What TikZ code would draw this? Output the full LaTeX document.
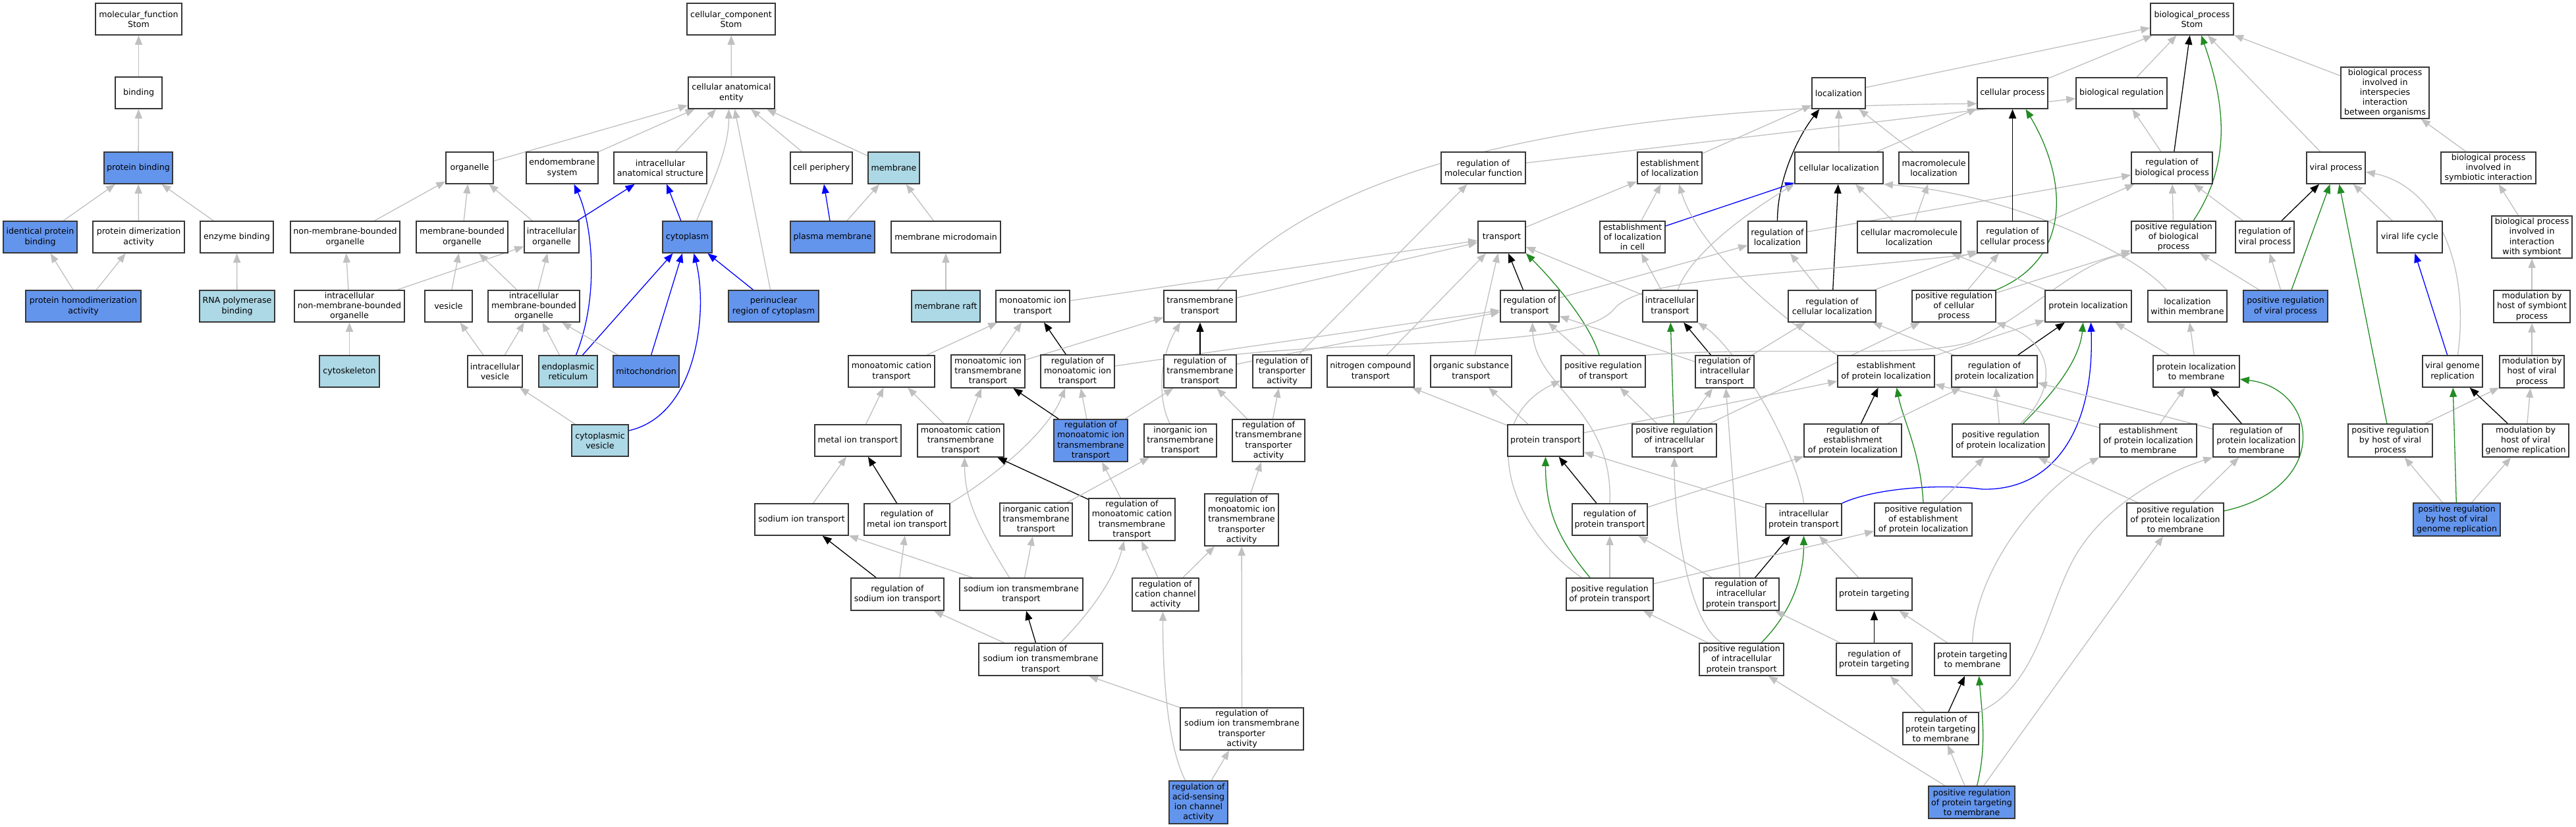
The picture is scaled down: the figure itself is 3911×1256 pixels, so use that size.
\documentclass[tikz,border=0pt]{standalone}
\usepackage{fontspec}
\setmainfont{DejaVu Sans}
\usetikzlibrary{arrows.meta}
\definecolor{lb}{RGB}{173,216,230}
\definecolor{cb}{RGB}{100,149,237}
\definecolor{eg}{RGB}{192,192,192}
\definecolor{fg}{RGB}{34,139,34}
\definecolor{nb}{RGB}{55,55,55}
\newcommand{\gofont}{\fontsize{6.3pt}{7.6pt}\selectfont}
\pgfdeclarelayer{bgl}
\pgfdeclarelayer{edges}
\pgfsetlayers{bgl,edges,main}
\newcommand{\GOn}[7]{\node[gbox,fill=#6,minimum width={(#3-#2)*0.5pt},minimum height={(#5-#4)*0.5pt}] (#1) at ({(#2+#3)/2},{(#4+#5)/2}) {#7};}
\tikzset{
  gbox/.style={draw=nb, line width=0.8pt, rectangle, align=center, inner xsep=0.3pt, inner ysep=0.5pt, font=\gofont},
  tip/.style={-{Triangle[length=7pt,width=5.5pt]}},
  ga/.style={draw=eg, line width=0.65pt, tip},
  ba/.style={draw=black, line width=0.65pt, tip},
  bl/.style={draw=blue, line width=0.65pt, tip},
  gr/.style={draw=fg, line width=0.65pt, tip}
}
\begin{document}
\begin{tikzpicture}[x=0.5pt,y=-0.5pt]
\useasboundingbox (0,0) rectangle (3911,1256);
\begin{pgfonlayer}{bgl}
\fill[white] (0,0) rectangle (3911,1256);
\end{pgfonlayer}
% ---------- molecular function ----------
\GOn{mf}{145}{276}{5}{53}{white}{molecular\_function\\Stom}
\GOn{binding}{175}{246}{117}{165}{white}{binding}
\GOn{protbind}{158}{262}{231}{279}{cb}{protein binding}
\GOn{identbind}{5}{117}{336}{384}{cb}{identical protein\\binding}
\GOn{dimer}{141}{280}{336}{384}{white}{protein dimerization\\activity}
\GOn{enzbind}{304}{415}{336}{384}{white}{enzyme binding}
\GOn{homodimer}{39}{214}{441}{489}{cb}{protein homodimerization\\activity}
\GOn{rnapol}{303}{417}{441}{489}{lb}{RNA polymerase\\binding}
% ---------- cellular component ----------
\GOn{cc}{1043}{1177}{5}{53}{white}{cellular\_component\\Stom}
\GOn{cae}{1045}{1176}{117}{165}{white}{cellular anatomical\\entity}
\GOn{organelle}{677}{749}{231}{279}{white}{organelle}
\GOn{endomem}{799}{908}{231}{279}{white}{endomembrane\\system}
\GOn{ias}{932}{1073}{231}{279}{white}{intracellular\\anatomical structure}
\GOn{cellper}{1200}{1294}{231}{279}{white}{cell periphery}
\GOn{membrane}{1318}{1396}{231}{279}{lb}{membrane}
\GOn{nmbo}{441}{607}{336}{384}{white}{non-membrane-bounded\\organelle}
\GOn{mbo}{632}{771}{336}{384}{white}{membrane-bounded\\organelle}
\GOn{io}{796}{879}{336}{384}{white}{intracellular\\organelle}
\GOn{cyto}{1006}{1081}{336}{384}{cb}{cytoplasm}
\GOn{pm}{1200}{1328}{336}{384}{cb}{plasma membrane}
\GOn{mmd}{1353}{1519}{336}{384}{white}{membrane microdomain}
\GOn{inmbo}{447}{614}{441}{489}{white}{intracellular\\non-membrane-bounded\\organelle}
\GOn{vesicle}{645}{717}{441}{489}{white}{vesicle}
\GOn{imbo}{741}{880}{441}{489}{white}{intracellular\\membrane-bounded\\organelle}
\GOn{perinuc}{1106}{1243}{441}{489}{cb}{perinuclear\\region of cytoplasm}
\GOn{raft}{1384}{1488}{441}{489}{lb}{membrane raft}
\GOn{cytoskel}{485}{576}{540}{588}{lb}{cytoskeleton}
\GOn{ivesicle}{710}{793}{540}{588}{white}{intracellular\\vesicle}
\GOn{er}{818}{907}{540}{588}{lb}{endoplasmic\\reticulum}
\GOn{mito}{931}{1031}{540}{588}{cb}{mitochondrion}
\GOn{cvesicle}{868}{954}{645}{693}{lb}{cytoplasmic\\vesicle}
% ---------- ion transport ----------
\GOn{mit}{1512}{1624}{441}{489}{white}{monoatomic ion\\transport}
\GOn{tmt}{1767}{1877}{441}{489}{white}{transmembrane\\transport}
\GOn{mct}{1288}{1419}{540}{588}{white}{monoatomic cation\\transport}
\GOn{mitt}{1444}{1556}{539}{589}{white}{monoatomic ion\\transmembrane\\transport}
\GOn{rmit}{1580}{1692}{539}{589}{white}{regulation of\\monoatomic ion\\transport}
\GOn{rtmt}{1767}{1877}{539}{589}{white}{regulation of\\transmembrane\\transport}
\GOn{rta}{1902}{1991}{539}{589}{white}{regulation of\\transporter\\activity}
\GOn{metal}{1237}{1368}{645}{693}{white}{metal ion transport}
\GOn{mctt}{1393}{1524}{644}{694}{white}{monoatomic cation\\transmembrane\\transport}
\GOn{rmitt}{1600}{1712}{637}{701}{cb}{regulation of\\monoatomic ion\\transmembrane\\transport}
\GOn{iitt}{1737}{1847}{644}{694}{white}{inorganic ion\\transmembrane\\transport}
\GOn{rtta}{1871}{1981}{637}{701}{white}{regulation of\\transmembrane\\transporter\\activity}
\GOn{sodium}{1146}{1288}{765}{813}{white}{sodium ion transport}
\GOn{rmetal}{1312}{1442}{765}{813}{white}{regulation of\\metal ion transport}
\GOn{ictt}{1518}{1628}{764}{814}{white}{inorganic cation\\transmembrane\\transport}
\GOn{rmctt}{1653}{1784}{757}{821}{white}{regulation of\\monoatomic cation\\transmembrane\\transport}
\GOn{rmitta}{1829}{1941}{750}{829}{white}{regulation of\\monoatomic ion\\transmembrane\\transporter\\activity}
\GOn{rsodium}{1292}{1433}{878}{927}{white}{regulation of\\sodium ion transport}
\GOn{sitt}{1457}{1644}{878}{927}{white}{sodium ion transmembrane\\transport}
\GOn{rcca}{1719}{1820}{878}{928}{white}{regulation of\\cation channel\\activity}
\GOn{rsitt}{1486}{1674}{977}{1026}{white}{regulation of\\sodium ion transmembrane\\transport}
\GOn{rsitta}{1792}{1979}{1075}{1139}{white}{regulation of\\sodium ion transmembrane\\transporter\\activity}
\GOn{rasic}{1775}{1864}{1186}{1251}{cb}{regulation of\\acid-sensing\\ion channel\\activity}
% ---------- transport ----------
\GOn{rmf}{2188}{2316}{231}{279}{white}{regulation of\\molecular function}
\GOn{eloc}{2486}{2584}{231}{279}{white}{establishment\\of localization}
\GOn{transport}{2244}{2316}{336}{384}{white}{transport}
\GOn{elic}{2429}{2528}{336}{384}{white}{establishment\\of localization\\in cell}
\GOn{rtrans}{2278}{2367}{441}{489}{white}{regulation of\\transport}
\GOn{itrans}{2494}{2577}{441}{489}{white}{intracellular\\transport}
\GOn{nct}{2015}{2147}{540}{588}{white}{nitrogen compound\\transport}
\GOn{ost}{2172}{2295}{540}{588}{white}{organic substance\\transport}
\GOn{prt}{2370}{2498}{540}{588}{white}{positive regulation\\of transport}
\GOn{rit}{2574}{2663}{540}{589}{white}{regulation of\\intracellular\\transport}
\GOn{pt}{2289}{2404}{645}{693}{white}{protein transport}
\GOn{prit}{2478}{2606}{644}{694}{white}{positive regulation\\of intracellular\\transport}
\GOn{rpt}{2387}{2501}{765}{813}{white}{regulation of\\protein transport}
\GOn{prpt}{2378}{2510}{878}{927}{white}{positive regulation\\of protein transport}
% ---------- localization ----------
\GOn{loc}{2751}{2832}{118}{165}{white}{localization}
\GOn{cp}{3002}{3109}{118}{165}{white}{cellular process}
\GOn{breg}{3152}{3290}{118}{165}{white}{biological regulation}
\GOn{cloc}{2725}{2859}{231}{279}{white}{cellular localization}
\GOn{mloc}{2883}{2989}{231}{279}{white}{macromolecule\\localization}
\GOn{rbp}{3236}{3359}{231}{279}{white}{regulation of\\biological process}
\GOn{rloc}{2654}{2743}{336}{384}{white}{regulation of\\localization}
\GOn{cmloc}{2820}{2977}{336}{384}{white}{cellular macromolecule\\localization}
\GOn{rcp}{3002}{3109}{336}{384}{white}{regulation of\\cellular process}
\GOn{prbp}{3236}{3364}{336}{384}{white}{positive regulation\\of biological\\process}
\GOn{rcloc}{2715}{2848}{441}{489}{white}{regulation of\\cellular localization}
\GOn{prcp}{2903}{3030}{441}{489}{white}{positive regulation\\of cellular\\process}
\GOn{ploc}{3105}{3236}{441}{489}{white}{protein localization}
\GOn{epl}{2790}{2937}{540}{588}{white}{establishment\\of protein localization}
\GOn{rpl}{2963}{3093}{540}{588}{white}{regulation of\\protein localization}
\GOn{repl}{2739}{2887}{644}{694}{white}{regulation of\\establishment\\of protein localization}
\GOn{prpl}{2964}{3111}{644}{694}{white}{positive regulation\\of protein localization}
\GOn{eplm}{3188}{3335}{644}{694}{white}{establishment\\of protein localization\\to membrane}
\GOn{ipt}{2681}{2796}{765}{813}{white}{intracellular\\protein transport}
\GOn{prepl}{2846}{2994}{764}{814}{white}{positive regulation\\of establishment\\of protein localization}
\GOn{prplm}{3229}{3376}{764}{814}{white}{positive regulation\\of protein localization\\to membrane}
\GOn{ript}{2586}{2701}{878}{927}{white}{regulation of\\intracellular\\protein transport}
\GOn{ptg}{2788}{2903}{878}{927}{white}{protein targeting}
\GOn{prip}{2580}{2708}{977}{1026}{white}{positive regulation\\of intracellular\\protein transport}
\GOn{rptg}{2788}{2903}{977}{1026}{white}{regulation of\\protein targeting}
\GOn{ptm}{2937}{3052}{977}{1026}{white}{protein targeting\\to membrane}
\GOn{rptm}{2889}{3004}{1082}{1131}{white}{regulation of\\protein targeting\\to membrane}
\GOn{prptm}{2928}{3059}{1194}{1243}{cb}{positive regulation\\of protein targeting\\to membrane}
% ---------- viral / top ----------
\GOn{bp}{3265}{3391}{5}{53}{white}{biological\_process\\Stom}
\GOn{bpii}{3554}{3688}{102}{180}{white}{biological process\\involved in\\interspecies\\interaction\\between organisms}
\GOn{vp}{3502}{3591}{231}{279}{white}{viral process}
\GOn{bpsi}{3706}{3850}{231}{279}{white}{biological process\\involved in\\symbiotic interaction}
\GOn{rvp}{3394}{3483}{336}{384}{white}{regulation of\\viral process}
\GOn{vlc}{3609}{3708}{336}{384}{white}{viral life cycle}
\GOn{bpis}{3783}{3905}{328}{392}{white}{biological process\\involved in\\interaction\\with symbiont}
\GOn{lwm}{3261}{3381}{441}{489}{white}{localization\\within membrane}
\GOn{prvp}{3406}{3534}{441}{489}{cb}{positive regulation\\of viral process}
\GOn{mhsp}{3786}{3902}{441}{490}{white}{modulation by\\host of symbiont\\process}
\GOn{plm}{3269}{3400}{540}{588}{white}{protein localization\\to membrane}
\GOn{vgr}{3678}{3769}{540}{588}{white}{viral genome\\replication}
\GOn{mhvp}{3795}{3893}{540}{589}{white}{modulation by\\host of viral\\process}
\GOn{rplm}{3360}{3491}{644}{694}{white}{regulation of\\protein localization\\to membrane}
\GOn{prhvp}{3565}{3693}{644}{694}{white}{positive regulation\\by host of viral\\process}
\GOn{mhvgr}{3769}{3900}{644}{694}{white}{modulation by\\host of viral\\genome replication}
\GOn{prhvgr}{3664}{3796}{764}{814}{cb}{positive regulation\\by host of viral\\genome replication}

\begin{pgfonlayer}{edges}
% MF
\draw[ga] (binding) -- (mf);
\draw[ga] (protbind) -- (binding);
\draw[ga] (identbind) -- (protbind);
\draw[ga] (dimer) -- (protbind);
\draw[ga] (enzbind) -- (protbind);
\draw[ga] (homodimer) -- (identbind);
\draw[ga] (homodimer) -- (dimer);
\draw[ga] (rnapol) -- (enzbind);
% CC
\draw[ga] (cae) -- (cc);
\draw[ga] (organelle) -- (cae);
\draw[ga] (endomem) -- (cae);
\draw[ga] (ias) -- (cae);
\draw[ga] ([xshift=7pt]cyto.north) .. controls +(25,-60) and +(0,60) .. ([xshift=-2pt]cae.south);
\draw[ga] (perinuc) -- (cae);
\draw[ga] (cellper) -- (cae);
\draw[ga] (membrane) -- (cae);
\draw[ga] (nmbo) -- (organelle);
\draw[ga] (mbo) -- (organelle);
\draw[ga] (io) -- (organelle);
\draw[bl] (io) -- (ias);
\draw[bl] (cyto) -- (ias);
\draw[bl] (pm) -- (cellper);
\draw[ga] (pm) -- (membrane);
\draw[ga] (mmd) -- (membrane);
\draw[ga] (raft) -- (mmd);
\draw[ga] (inmbo) -- (nmbo);
\draw[ga] (inmbo) -- (io);
\draw[ga] (vesicle) -- (mbo);
\draw[ga] (imbo) -- (mbo);
\draw[ga] (imbo) -- (io);
\draw[ga] (cytoskel) -- (inmbo);
\draw[ga] (ivesicle) -- (vesicle);
\draw[ga] (ivesicle) -- (imbo);
\draw[ga] (er) -- (imbo);
\draw[bl] ([xshift=6pt]er.north) .. controls +(36,-90) and +(28,60) .. ([xshift=9pt]endomem.south);
\draw[bl] (er) -- (cyto);
\draw[ga] (mito) -- (imbo);
\draw[bl] (mito) -- (cyto);
\draw[bl] (perinuc) -- (cyto);
\draw[ga] (cvesicle) -- (ivesicle);
\draw[bl] ([yshift=7.5pt]cvesicle.east) .. controls (1060,630) and (1075,470) .. ([xshift=5pt]cyto.south);
% BP top
\draw[ga] (loc) -- (bp);
\draw[ga] (cp) -- (bp);
\draw[ga] (breg) -- (bp);
\draw[ba] (rbp) -- (bp);
\draw[gr] ([xshift=15pt]prbp.north) .. controls +(60,-90) and +(35,100) .. ([xshift=7pt]bp.south);
\draw[ga] (vp) -- (bp);
\draw[ga] (bpii) -- (bp);
% row 1 parents
\draw[ga] (eloc) -- (loc);
\draw[ga] (cloc) -- (loc);
\draw[ga] (mloc) -- (loc);
\draw[ba] (rloc.north) .. controls +(0,-60) and +(-35,45) .. ([xshift=6pt]loc.south west);
\draw[ga] (cloc) -- (cp);
\draw[ga] (rmf) -- (breg);
\draw[ga] (rbp) -- (breg);
\draw[ga] ([xshift=13pt]tmt.north) .. controls (2050,200) and (2600,160) .. ([yshift=-8pt]cp.west);
\draw[ga] (rloc) -- (rbp);
\draw[ga] (rcp) -- (rbp);
\draw[ga] (prbp) -- (rbp);
\draw[ga] (rvp) -- (rbp);
\draw[ga] ([xshift=-16pt]lwm.north) .. controls +(-40,-50) and +(200,15) .. (cloc.south east);
\draw[ba] (rvp) -- (vp);
\draw[gr] (prvp) -- (vp);
\draw[gr] (prhvp) -- (vp);
\draw[ga] (vlc) -- (vp);
\draw[ga] ([xshift=4pt]vgr.north) .. controls +(20,-150) and +(100,20) .. ([yshift=-3pt]vp.east);
\draw[ga] (bpsi) -- (bpii);
\draw[ga] (bpis) -- (bpsi);
\draw[ga] (mhsp) -- (bpis);
\draw[ga] (mhvp) -- (mhsp);
% row 3
\draw[ga] (transport) -- (eloc);
\draw[ga] (elic) -- (eloc);
\draw[bl] (elic) -- (cloc);
\draw[ga] (epl.north west) .. controls (2700,480) and (2580,380) .. ([xshift=7pt]eloc.south);
\draw[ga] (itrans) -- (elic);
\draw[ga] ([xshift=6pt]itrans.north) .. controls +(20,-60) and +(-50,30) .. (cloc.south west);
\draw[ba] (rcloc) -- (cloc);
\draw[ga] (cmloc) -- (cloc);
\draw[ga] (cmloc) -- (mloc);
\draw[ga] (rcloc) -- (rloc);
\draw[ga] (rtrans) -- (rloc);
\draw[ga] (rtmt.north east) .. controls (2100,515) and (2400,530) .. (2450,470) .. controls (2490,420) and (2700,420) .. ([xshift=1pt]rcp.south west);
\draw[ga] (rcloc) -- (rcp);
\draw[ga] (prcp) -- (rcp);
\draw[gr] (prcp.north east) .. controls +(120,-50) and +(60,100) .. ([xshift=10pt]cp.south);
\draw[ba] (rcp) -- (cp);
\draw[ga] (prcp) -- (prbp);
\draw[ga] (prvp) -- (rvp);
\draw[ga] (prvp) -- (prbp);
\draw[ga] (ploc) -- (cmloc);
\draw[bl] (vgr) -- (vlc);
% row 4
\draw[ga] (mit) -- (transport);
\draw[ga] (tmt) -- (transport);
\draw[ba] (rtrans) -- (transport);
\draw[ga] (itrans) -- (transport);
\draw[gr] ([xshift=-3pt]prt.north) .. controls +(-15,-50) and +(40,40) .. (transport.south east);
\draw[ga] (nct) -- (transport);
\draw[ga] (ost) -- (transport);
\draw[ga] (rta) -- (rmf);
\draw[ga] (rit) -- (rtrans);
\draw[ga] (prt) -- (rtrans);
\draw[ga] (rpt.north) .. controls (2450,620) and (2330,590) .. ([xshift=2pt]rtrans.south);
\draw[ga] (rmit) -- (rtrans);
\draw[ga] (rtmt) -- (rtrans);
\draw[ga] (ript) -- (rit);
\draw[ga] (prit) -- (rit);
\draw[ga] (rit) -- (rcloc);
\draw[gr] (prit) -- (itrans);
\draw[ba] (rit) -- (itrans);
\draw[ga] (ipt.north) .. controls +(-10,-80) and +(60,40) .. (itrans.south east);
\draw[ga] (prit) -- (prt);
\draw[ga] ([xshift=12pt]prpt.north west) .. controls (2290,800) and (2240,640) .. ([yshift=-7pt]prt.west);
\draw[ga] (prt.north east) .. controls (2700,525) and (2900,545) .. (2990,520) .. controls (3080,480) and (3150,400) .. (prbp.south west);
\draw[bl] (ipt.north east) .. controls (2850,740) and (2950,735) .. (3010,743) .. controls (3120,745) and (3180,650) .. ([xshift=2pt]ploc.south);
\draw[ga] (epl) -- (ploc);
\draw[ba] (rpl) -- (ploc);
\draw[gr] ([xshift=17pt]prpl.north) .. controls +(40,-40) and +(-5,60) .. ([xshift=-4pt]ploc.south);
\draw[ga] (plm) -- (ploc);
\draw[ga] (plm) -- (lwm);
\draw[ga] (prit) -- (prcp);
\draw[ga] ([xshift=15pt]prpl.north) .. controls (3125,590) and (3120,520) .. (prcp.south east);
\draw[ga] (rpl) -- (rcloc);
% row 5
\draw[ga] (mct) -- (mit);
\draw[ga] (mitt) -- (mit);
\draw[ba] (rmit) -- (mit);
\draw[ga] (mitt) -- (tmt);
\draw[ba] (rtmt) -- (tmt);
\draw[ga] ([xshift=-8pt]iitt.north) .. controls +(-20,-40) and +(-30,50) .. ([xshift=-15pt]tmt.south);
\draw[ga] (pt) -- (nct);
\draw[ga] (pt) -- (ost);
\draw[ga] (pt) -- (epl);
\draw[ba] (repl) -- (epl);
\draw[gr] (prepl.north) .. controls +(-5,-80) and +(10,50) .. ([xshift=8pt]epl.south);
\draw[ga] (eplm) -- (epl);
\draw[ga] (repl) -- (rpl);
\draw[ga] (prpl) -- (rpl);
\draw[ga] (rplm) -- (rpl);
\draw[ga] (prepl) -- (prpl);
\draw[ga] (prplm) -- (prpl);
\draw[ga] (rtta) -- (rta);
\draw[ga] (rtta) -- (rtmt);
\draw[ga] (rmitt) -- (rtmt);
\draw[ga] (rmitt) -- (rmit);
\draw[ga] (rmetal.north east) .. controls (1500,730) and (1590,660) .. ([xshift=-9.5pt]rmit.south);
\draw[ga] (mctt) -- (mitt);
\draw[ba] (rmitt) -- (mitt);
\draw[ga] (metal) -- (mct);
\draw[ga] (mctt) -- (mct);
% row 6
\draw[ga] (sodium) -- (metal);
\draw[ba] (rmetal) -- (metal);
\draw[ba] (rmctt) -- (mctt);
\draw[ga] ([xshift=-9pt]sitt.north) .. controls +(-50,-80) and +(0,60) .. ([xshift=3pt]mctt.south);
\draw[ga] (rmctt) -- (rmitt);
\draw[ga] (ictt) -- (iitt);
\draw[ga] (rmitta) -- (rtta);
\draw[ga] ([xshift=-15pt]prip.north) .. controls +(-50,-30) and +(0,100) .. (prit.south);
\draw[ga] (prip) -- (prpt);
% row 7
\draw[ga] (prpt) -- (rpt);
\draw[gr] ([xshift=-15pt]prpt.north) .. controls +(-50,-60) and +(0,80) .. (pt.south);
\draw[ba] (rpt) -- (pt);
\draw[ga] (ipt) -- (pt);
\draw[ga] (ript) -- (rpt);
\draw[ga] (rpt) -- (repl);
\draw[ba] (ript) -- (ipt);
\draw[gr] ([xshift=15pt]prip.north) .. controls +(40,-40) and +(0,70) .. (ipt.south);
\draw[ga] (ptg) -- (ipt);
\draw[ga] (prpt) -- (prepl);
\draw[ga] (rptg) -- (ript);
\draw[ga] (ptm.north) .. controls +(5,-120) and +(-80,40) .. (eplm.south west);
\draw[ga] (prptm) -- (prplm);
\draw[ga] (prplm) -- (rplm);
\draw[gr] ([yshift=6.5pt]prplm.east) .. controls (3540,740) and (3520,590) .. ([yshift=-6pt]plm.east);
\draw[ba] (rplm) -- (plm);
\draw[ga] (eplm) -- (plm);
\draw[ga] (prhvp) -- (mhvp);
\draw[ga] (mhvgr) -- (mhvp);
\draw[ba] (mhvgr) -- (vgr);
\draw[gr] (prhvgr) -- (vgr);
\draw[ga] (prhvgr) -- (prhvp);
\draw[ga] (prhvgr) -- (mhvgr);
% lower rows
\draw[ba] (rsodium) -- (sodium);
\draw[ga] (sitt) -- (sodium);
\draw[ga] (rsodium) -- (rmetal);
\draw[ga] (sitt) -- (ictt);
\draw[ga] (rcca) -- (rmctt);
\draw[ga] (rcca) -- (rmitta);
\draw[ba] (rsitt) -- (sitt);
\draw[ga] (rsitt) -- (rsodium);
\draw[ga] ([xshift=15pt]rsitt.north) .. controls +(40,-40) and +(-15,60) .. ([xshift=-6pt]rmctt.south);
\draw[ga] (rsitta) -- (rsitt);
\draw[ga] (rsitta) -- (rmitta);
\draw[ga] ([xshift=-10pt]rasic.north) .. controls +(-30,-60) and +(0,80) .. ([xshift=-2pt]rcca.south);
\draw[ga] (rasic) -- (rsitta);
\draw[ba] (rptg) -- (ptg);
\draw[ga] (ptm) -- (ptg);
\draw[ga] (rptm) -- (rptg);
\draw[ba] (rptm) -- (ptm);
\draw[gr] ([xshift=4pt]prptm.north) .. controls +(15,-60) and +(5,60) .. ([xshift=5pt]ptm.south);
\draw[ga] (prptm) -- (rptm);
\draw[ga] (prptm) -- (prip);
\draw[ga] (rptm.north east) .. controls (3100,1040) and (3110,900) .. (3160,830) .. controls (3200,770) and (3280,720) .. (rplm.south west);
\end{pgfonlayer}
\end{tikzpicture}
\end{document}
